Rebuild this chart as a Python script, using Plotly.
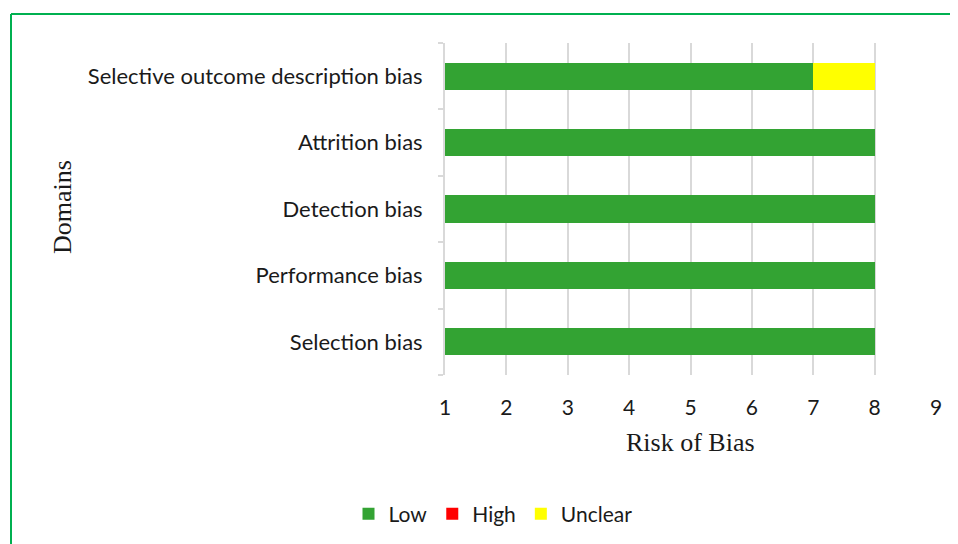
import plotly.graph_objects as go

categories = ["Selection bias", "Performance bias", "Detection bias",
              "Attrition bias", "Selective outcome description bias"]
low = [8, 8, 8, 8, 7]
high = [0, 0, 0, 0, 0]
unclear = [0, 0, 0, 0, 1]
x_ticks = [1, 2, 3, 4, 5, 6, 7, 8, 9]

OFF = 8  # default page body margin
W, H = 958 - OFF, 544 - OFF
L, R, T, B = 445 - OFF, 22, 43 - OFF, 169
pw, ph = W - L - R, H - T - B

def px(x):
    return (x - OFF - L) / pw

def py(y):
    return (H - B - (y - OFF)) / ph

label_font = dict(family="Lato, Carlito, Calibri, sans-serif", size=21, color="#1a1a1a")
cat_font = dict(family="Lato, Carlito, Calibri, sans-serif", size=22, color="#1a1a1a")
serif_font = dict(family="Liberation Serif, Times New Roman, serif", size=26, color="#1a1a1a")

fig = go.Figure()
fig.add_trace(go.Bar(y=categories, x=low, name="Low", orientation="h",
                     marker=dict(color="#33a333", line=dict(width=0))))
fig.add_trace(go.Bar(y=categories, x=high, name="High", orientation="h",
                     marker=dict(color="#ff0000", line=dict(width=0))))
fig.add_trace(go.Bar(y=categories, x=unclear, name="Unclear", orientation="h",
                     marker=dict(color="#ffff00", line=dict(width=0))))

fig.update_layout(
    barmode="stack",
    bargap=0.59,
    width=W, height=H,
    margin=dict(l=L, r=R, t=T, b=B),
    paper_bgcolor="white",
    plot_bgcolor="white",
    showlegend=True,
    legend=dict(orientation="h", xref="container", yref="container",
                x=(493 - OFF) / W, xanchor="center", y=1 - (514 - OFF) / H, yanchor="middle",
                font=label_font, itemwidth=30, traceorder="normal",
                bgcolor="rgba(0,0,0,0)"),
    xaxis=dict(range=[1, 9], tickvals=x_ticks, ticktext=[str(v) for v in x_ticks],
               showgrid=True, gridcolor="#d9d9d9", gridwidth=2,
               zeroline=False, showline=False, ticks="",
               tickfont=label_font, ticklabelstandoff=18),
    yaxis=dict(categoryorder="array", categoryarray=categories,
               showgrid=False, zeroline=False, showline=True,
               linecolor="#d9d9d9", linewidth=2, ticks="outside",
               tickson="boundaries", ticklen=5, tickcolor="#d9d9d9", tickwidth=2,
               tickfont=cat_font, ticklabelstandoff=16),
    annotations=[
        dict(text="Risk of Bias", xref="paper", yref="paper", x=px(690), y=py(443),
             xanchor="center", yanchor="middle", showarrow=False, font=serif_font),
        dict(text="Domains", xref="paper", yref="paper", x=px(62), y=py(207),
             xanchor="center", yanchor="middle", showarrow=False, textangle=-90,
             font=serif_font),
    ],
    shapes=[
        dict(type="line", xref="paper", yref="paper", x0=px(11), x1=px(970),
             y0=py(14), y1=py(14), line=dict(color="#00b050", width=2)),
        dict(type="line", xref="paper", yref="paper", x0=px(11), x1=px(11),
             y0=py(14), y1=py(560), line=dict(color="#00b050", width=2)),
    ],
)

fig.write_html("out.html")
